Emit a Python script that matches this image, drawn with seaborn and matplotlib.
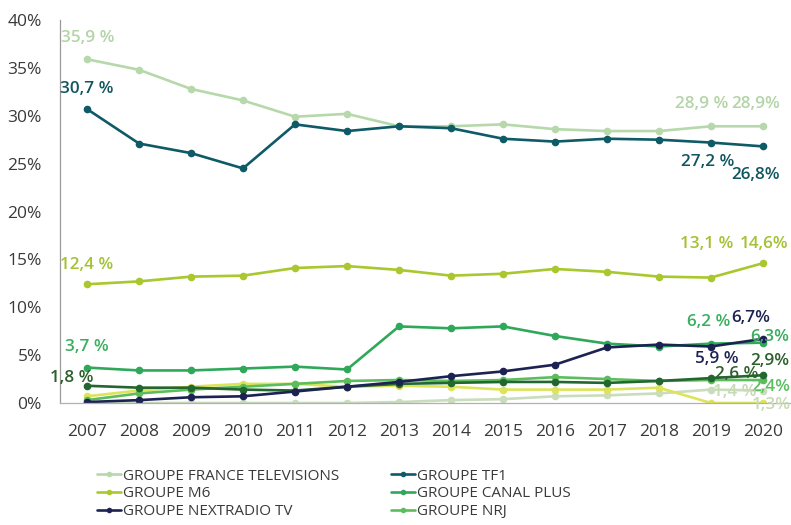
import matplotlib
matplotlib.use("Agg")
import matplotlib.pyplot as plt
from matplotlib.lines import Line2D
import seaborn as sns
import pandas as pd

years = list(range(2007, 2021))

ftv = [35.9, 34.8, 32.8, 31.6, 29.9, 30.2, 28.9, 28.9, 29.1, 28.6, 28.4, 28.4, 28.9, 28.9]
tf1 = [30.7, 27.1, 26.1, 24.5, 29.1, 28.4, 28.9, 28.7, 27.6, 27.3, 27.6, 27.5, 27.2, 26.8]
m6 = [12.4, 12.7, 13.2, 13.3, 14.1, 14.3, 13.9, 13.3, 13.5, 14.0, 13.7, 13.2, 13.1, 14.6]
canal = [3.7, 3.4, 3.4, 3.6, 3.8, 3.5, 8.0, 7.8, 8.0, 7.0, 6.2, 5.9, 6.2, 6.3]
nextradio = [0.1, 0.3, 0.6, 0.7, 1.2, 1.7, 2.2, 2.8, 3.3, 4.0, 5.8, 6.1, 5.9, 6.7]
nrj = [0.3, 1.0, 1.4, 1.7, 2.0, 2.3, 2.4, 2.3, 2.4, 2.7, 2.5, 2.3, 2.4, 2.4]
other_dark = [1.8, 1.6, 1.6, 1.4, 1.3, 1.7, 2.0, 2.1, 2.2, 2.2, 2.1, 2.3, 2.6, 2.9]
other_yellow = [0.7, 1.3, 1.7, 2.0, 2.0, 1.7, 1.8, 1.7, 1.4, 1.4, 1.4, 1.6, 0.0, 0.0]
other_pale = [0.0, 0.0, 0.0, 0.0, 0.0, 0.0, 0.1, 0.3, 0.4, 0.7, 0.8, 1.0, 1.4, 1.3]

names = {
    "ftv": "GROUPE FRANCE TELEVISIONS",
    "tf1": "GROUPE TF1",
    "m6": "GROUPE M6",
    "canal": "GROUPE CANAL PLUS",
    "next": "GROUPE NEXTRADIO TV",
    "nrj": "GROUPE NRJ",
}

colors = {
    "pale": "#c9dcbc",
    "ftv": "#b6d8ab",
    "yellow": "#dde35a",
    "m6": "#a9c72e",
    "nrj": "#5dbd5c",
    "dark": "#22672f",
    "canal": "#2fa85a",
    "next": "#1c2352",
    "tf1": "#0e5a66",
}

series = [
    ("pale", other_pale),
    ("ftv", ftv),
    ("yellow", other_yellow),
    ("m6", m6),
    ("nrj", nrj),
    ("dark", other_dark),
    ("canal", canal),
    ("next", nextradio),
    ("tf1", tf1),
]

sns.set_style("white")
plt.rcParams["font.family"] = ["Open Sans", "DejaVu Sans"]

fig = plt.figure(figsize=(7.91, 5.25), dpi=100)
ax = fig.add_axes([60 / 791, 122 / 525, 731 / 791, 383 / 525])

for key, vals in series:
    df = pd.DataFrame({"year": years, "value": vals})
    sns.lineplot(data=df, x="year", y="value", ax=ax, color=colors[key],
                 linewidth=1.9, marker="o", markersize=5.5,
                 markeredgewidth=0, legend=False)

ax.set_xlim(2006.48, 2020.54)
ax.set_ylim(0, 40)
ax.set_xticks(years)
ax.set_xticklabels([str(y) for y in years])
yt = list(range(0, 45, 5))
ax.set_yticks(yt)
ax.set_yticklabels([f"{v}%" for v in yt])
ax.set_xlabel("")
ax.set_ylabel("")
ax.tick_params(axis="x", length=0, pad=15, labelsize=12.5, labelcolor="#3a3a3a")
ax.tick_params(axis="y", length=0, pad=13, labelsize=12.5, labelcolor="#3a3a3a")
for s in ["top", "right"]:
    ax.spines[s].set_visible(False)
ax.spines["left"].set_color("#9a9a9a")
ax.spines["left"].set_linewidth(0.9)
ax.spines["bottom"].set_color("#b0b0b0")
ax.spines["bottom"].set_linewidth(0.9)
ax.grid(False)

lab_col = {
    "ftv": "#b3d4a7", "tf1": "#10565f", "m6": "#a2c232", "canal": "#3aae5e",
    "dark": "#2b5f2b", "next": "#1c2350", "nrj": "#5cbf5f", "pale": "#c8d9b5",
}
data_map = dict(series)
# (series, year index, text, dx px, dy px)
labels = [
    ("ftv", 0, "35,9 %", 1, 21),
    ("tf1", 0, "30,7 %", 0, 20),
    ("m6", 0, "12,4 %", 0, 19),
    ("canal", 0, "3,7 %", 0, 21),
    ("dark", 0, "1,8 %", -15, 8),
    ("ftv", 12, "28,9 %", -9, 22),
    ("ftv", 13, "28,9%", -7, 22),
    ("tf1", 12, "27,2 %", -3, -19),
    ("tf1", 13, "26,8%", -7, -29),
    ("m6", 13, "14,6%", 1, 19),
    ("m6", 12, "13,1 %", -4, 34),
    ("canal", 12, "6,2 %", -2, 22),
    ("next", 13, "6,7%", -12, 21),
    ("canal", 13, "6,3%", 7, 6),
    ("next", 12, "5,9 %", 6, -12),
    ("dark", 13, "2,9%", 7, 14),
    ("dark", 12, "2,6 %", 26, 4),
    ("nrj", 13, "2,4%", 8, -7),
    ("pale", 12, "1,4 %", 24, -2),
    ("pale", 13, "1,3%", 8, -14),
]
for key, i, txt, dx, dy in labels:
    ax.annotate(txt, xy=(years[i], data_map[key][i]), xytext=(dx, dy),
                textcoords="offset pixels", ha="center", va="center",
                fontsize=12.3, fontweight="semibold", color=lab_col[key],
                annotation_clip=False, clip_on=False)

order = ["ftv", "m6", "next", "tf1", "canal", "nrj"]
handles = [Line2D([0], [0], color=colors[k], lw=1.9, marker="o", markersize=4,
                  markeredgewidth=0) for k in order]
fig.legend(handles, [names[k] for k in order], ncol=2, loc="upper left",
           bbox_to_anchor=(89 / 791, (525 - 461) / 525), frameon=False,
           fontsize=11, handlelength=1.6, handletextpad=0.1,
           columnspacing=3.4, labelspacing=0.18, borderpad=0,
           labelcolor="#3a3a3a")

fig.savefig("out.png", dpi=100)
